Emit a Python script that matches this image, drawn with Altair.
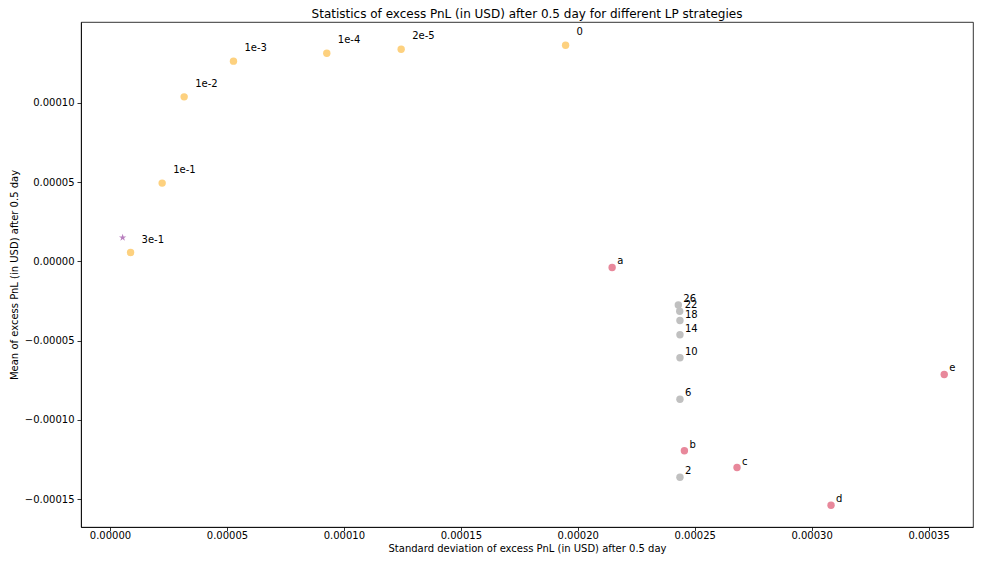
import altair as alt
import pandas as pd

# ---- data ----
orange_labels = ["3e-1", "1e-1", "1e-2", "1e-3", "1e-4", "2e-5", "0"]
orange_std = [0.0000088, 0.0000223, 0.0000317, 0.0000528, 0.0000927, 0.0001245, 0.0001948]
orange_mean = [0.0000056, 0.0000494, 0.0001038, 0.0001263, 0.0001313, 0.0001338, 0.0001363]

pink_labels = ["a", "b", "c", "d", "e"]
pink_std = [0.0002147, 0.0002456, 0.0002681, 0.0003083, 0.0003567]
pink_mean = [-0.0000038, -0.0001194, -0.0001300, -0.0001538, -0.0000713]

gray_labels = ["2", "6", "10", "14", "18", "22", "26"]
gray_std = [0.0002437, 0.0002437, 0.0002437, 0.0002437, 0.0002437, 0.0002436, 0.0002430]
gray_mean = [-0.0001361, -0.0000869, -0.0000608, -0.0000463, -0.0000373, -0.0000314, -0.0000275]

star_std = [0.0000054]
star_mean = [0.0000150]

x_ticks = [0.0, 0.00005, 0.0001, 0.00015, 0.0002, 0.00025, 0.0003, 0.00035]
y_ticks = [-0.00015, -0.0001, -0.00005, 0.0, 0.00005, 0.0001]
x_domain = [-0.0000124, 0.000369]
y_domain = [-0.0001675, 0.000151]

orange_df = pd.DataFrame({"std": orange_std, "mean": orange_mean, "label": orange_labels})
pink_df = pd.DataFrame({"std": pink_std, "mean": pink_mean, "label": pink_labels})
gray_df = pd.DataFrame({"std": gray_std, "mean": gray_mean, "label": gray_labels})
star_df = pd.DataFrame({"std": star_std, "mean": star_mean})

FONT = "DejaVu Sans"
W, H = 892, 505

x_enc = alt.X("std:Q",
              scale=alt.Scale(domain=x_domain, nice=False, zero=False),
              axis=alt.Axis(title="Standard deviation of excess PnL (in USD) after 0.5 day",
                            values=x_ticks, format=".5f", grid=False, labelPadding=0,
                            tickSize=3.5,
                            titleX=W / 2, titleY=21, titleBaseline="middle"))
y_enc = alt.Y("mean:Q",
              scale=alt.Scale(domain=y_domain, nice=False, zero=False),
              axis=alt.Axis(title="Mean of excess PnL (in USD) after 0.5 day",
                            values=y_ticks, format=".5f", grid=False, labelPadding=3,
                            tickSize=4,
                            titleX=-67, titleY=H / 2, titleBaseline="middle",
                            titleAlign="center"))

def pts(df, color):
    return alt.Chart(df).mark_point(filled=True, shape="circle", size=55,
                                    color=color, opacity=1).encode(x=x_enc, y=y_enc)

def labels(df, dx, dy):
    return alt.Chart(df).mark_text(align="left", baseline="middle", dx=dx, dy=dy,
                                   font=FONT, fontSize=10, color="black").encode(
        x=alt.X("std:Q"), y=alt.Y("mean:Q"), text="label:N")

star_path = ("M0,-1L0.2245,-0.309L0.951,-0.309L0.363,0.118L0.588,0.809L0,0.382"
             "L-0.588,0.809L-0.363,0.118L-0.951,-0.309L-0.2245,-0.309Z")

star = alt.Chart(star_df).mark_point(filled=True, shape=star_path, size=60,
                                     color="#b87fbe", opacity=1).encode(x=x_enc, y=y_enc)

chart = alt.layer(
    pts(orange_df, "#fdd17f"),
    pts(pink_df, "#e8889b"),
    pts(gray_df, "#c0c0c0"),
    star,
    labels(orange_df, 11, -13),
    labels(pink_df, 5, -6),
    labels(gray_df, 5, -6),
).properties(
    width=W,
    height=H,
    title=alt.TitleParams("Statistics of excess PnL (in USD) after 0.5 day for different LP strategies",
                          anchor="middle", font=FONT, fontSize=12, fontWeight="normal",
                          color="black", offset=1),
    autosize=alt.AutoSizeParams(type="none"),
    padding={"left": 73, "top": 14, "right": 1, "bottom": 27},
).configure_axis(
    labelFont=FONT, titleFont=FONT, labelFontSize=10, titleFontSize=10,
    labelColor="black", titleColor="black", titleFontWeight="normal",
    domainColor="black", tickColor="black",
    domainWidth=0.8, tickWidth=0.8,
).configure_view(
    stroke="black", strokeWidth=0.8,
)

chart.save("out.html", embed_options={"renderer": "svg", "actions": False})
